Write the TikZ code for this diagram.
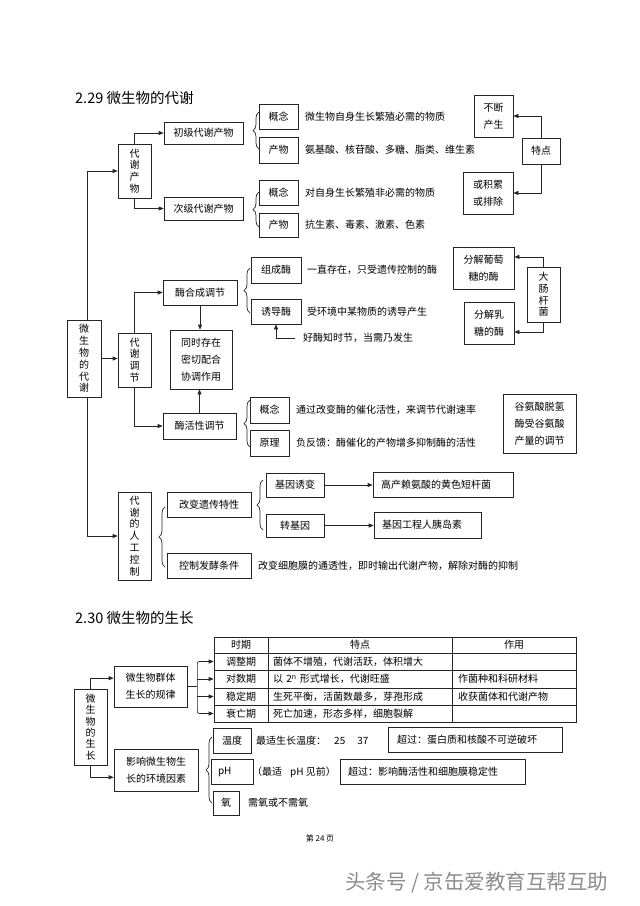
\documentclass[tikz,border=0pt]{standalone}
\usepackage{fontspec}
\setmainfont{Noto Sans CJK SC}
\usetikzlibrary{arrows.meta,calc,decorations.pathreplacing}
\newcommand\bx[6][]{\node[box,#1,minimum width={#5-#3},minimum height={#6-#4}] (#2) at ({(#3+#5)/2},{(#4+#6)/2})}
\begin{document}
\begin{tikzpicture}[x=1pt,y=-1pt,
  line/.style={draw=black!85,line width=0.7pt},
  box/.style={line,fill=white,inner sep=0pt,align=center,font=\fontsize{10}{17}\selectfont},
  vbox/.style={font=\fontsize{10}{11.8}\selectfont},
  txt/.style={anchor=west,inner sep=0pt,font=\fontsize{10}{12}\selectfont},
  arr/.style={line,-{Triangle[length=5pt,width=4pt]}},
  brc/.style={line,decorate,decoration={brace,amplitude=6pt}},
  ttl/.style={anchor=west,inner sep=0pt,font=\fontsize{14.5}{16}\selectfont}]
\fill[white] (0,0) rectangle (640,906);
\useasboundingbox (0,0) rectangle (640,906);

% ===== 2.29 =====
\node[ttl] (t1) at (75,97.5) {2.29 微生物的代谢};

\coordinate (Ltop) at (87,171);
\coordinate (Lbot) at (87,536);
\draw[line] (Ltop) -- (Lbot);

\bx[vbox]{main}{67}{320}{101}{397}{微\\生\\物\\的\\代\\谢};
\bx[vbox]{dc}{118}{144}{151}{198}{代\\谢\\产\\物};
\bx{cj}{164}{122}{243}{144}{初级代谢产物};
\bx{cjb}{164}{197}{243}{220}{次级代谢产物};
\bx{gn1}{259}{104}{298}{129}{概念};
\bx{cw1}{259}{137}{298}{163}{产物};
\bx{gn2}{259}{180}{298}{205}{概念};
\bx{cw2}{259}{213}{298}{237}{产物};
\node[txt] (x1) at (305,116.5) {微生物自身生长繁殖必需的物质};
\node[txt] (x2) at (305,150) {氨基酸、核苷酸、多糖、脂类、维生素};
\node[txt] (x3) at (305,192.5) {对自身生长繁殖非必需的物质};
\node[txt] (x4) at (305,225) {抗生素、毒素、激素、色素};
\bx{bd}{474}{95}{513}{137}{不断\\产生};
\bx{td}{522}{138}{560}{164}{特点};
\bx{hj}{463}{172}{513}{214}{或积累\\或排除};

\draw[arr] (Ltop) -- (dc.west);
\draw[arr] (dc.north) |- (cj.west);
\draw[arr] (dc.south) |- (cjb.west);
\draw[arr] (td.north) |- (bd.east);
\draw[arr] (td.south) |- (hj.east);
\draw[brc] (259,149) -- (259,112);
\draw[brc] (259,227) -- (259,192);

\bx[vbox]{tj}{118}{333}{151}{387}{代\\谢\\调\\节};
\bx{hc}{163}{280}{237}{305}{酶合成调节};
\bx{hx}{163}{413}{236}{439}{酶活性调节};
\bx{tc}{170}{330}{232}{389}{同时存在\\密切配合\\协调作用};
\bx{zc}{251}{257}{301}{283}{组成酶};
\bx{yd}{251}{299}{301}{324}{诱导酶};
\node[txt] (x5) at (307,270) {一直存在，只受遗传控制的酶};
\node[txt] (x6) at (307,311.5) {受环境中某物质的诱导产生};
\node[txt] (hm) at (303,338) {好酶知时节，当需乃发生};
\bx{pt}{453}{247}{514}{289}{分解葡萄\\糖的酶};
\bx{rt}{464}{302}{514}{344}{分解乳\\糖的酶};
\bx[vbox]{dg}{527}{267}{560}{322}{大\\肠\\杆\\菌};
\bx{gn3}{250}{397}{289}{423}{概念};
\bx{yl}{250}{430}{289}{456}{原理};
\node[txt] (x7) at (296,410) {通过改变酶的催化活性，来调节代谢速率};
\node[txt] (x8) at (296,443) {负反馈：酶催化的产物增多抑制酶的活性};
\bx{gas}{503}{394}{576}{453}{谷氨酸脱氢\\酶受谷氨酸\\产量的调节};

\draw[arr] (main.east) -- (main.east -| tj.west);
\draw[arr] (tj.north) |- (hc.west);
\draw[arr] (tj.south) |- (hx.west);
\draw[arr] (hc.south) -- (hc.south |- tc.north);
\draw[arr] (hx.north) -- (hx.north |- tc.south);
\draw[arr,shorten <=8pt] (hm.west) -| (yd.south);
\draw[arr] (dg.north) |- ($(pt.north east)!0.24!(pt.south east)$);
\draw[arr] (dg.south) |- ($(rt.north east)!0.71!(rt.south east)$);
\draw[brc] (250,313) -- (250,268);
\draw[brc] (250,447) -- (250,400);

\bx[vbox]{rg}{118}{492}{151}{580}{代\\谢\\的\\人\\工\\控\\制};
\bx{gb}{167}{492}{251}{517}{改变遗传特性};
\bx{kz}{167}{553}{251}{578}{控制发酵条件};
\bx{jy}{266}{473}{324}{497}{基因诱变};
\bx{zj}{266}{514}{324}{537}{转基因};
\bx[text width=124,align=left,inner xsep=8pt]{gc}{373}{472}{513}{497}{高产赖氨酸的黄色短杆菌};
\bx[text width=91,align=left,inner xsep=8pt]{yds}{374}{512}{481}{538}{基因工程人胰岛素};
\node[txt] (x9) at (258,566) {改变细胞膜的通透性，即时输出代谢产物，解除对酶的抑制};

\draw[arr] (Lbot) -- (rg.west);
\draw[arr] (jy.east) -- (jy.east -| gc.west);
\draw[arr] (zj.east) -- (zj.east -| yds.west);
\draw[brc] (165,567) -- (165,507);
\draw[brc] (263,530) -- (263,480);

% ===== 2.30 =====
\node[ttl] (t2) at (75,617.5) {2.30 微生物的生长};

\bx{h1}{214}{637}{268}{653}{时期};
\bx{h2}{268}{637}{452}{653}{特点};
\bx{h3}{452}{637}{576}{653}{作用};
\bx{r1}{214}{653}{268}{670}{调整期};
\bx[text width=174,align=left,inner xsep=5pt]{s1}{268}{653}{452}{670}{菌体不增殖，代谢活跃，体积增大};
\bx[text width=112,align=left,inner xsep=6pt]{u1}{452}{653}{576}{670}{};
\bx{r2}{214}{670}{268}{688}{对数期};
\bx[text width=174,align=left,inner xsep=5pt]{s2}{268}{670}{452}{688}{以 2\textsuperscript{n} 形式增长，代谢旺盛};
\bx[text width=112,align=left,inner xsep=6pt]{u2}{452}{670}{576}{688}{作菌种和科研材料};
\bx{r3}{214}{688}{268}{705}{稳定期};
\bx[text width=174,align=left,inner xsep=5pt]{s3}{268}{688}{452}{705}{生死平衡，活菌数最多，芽孢形成};
\bx[text width=112,align=left,inner xsep=6pt]{u3}{452}{688}{576}{705}{收获菌体和代谢产物};
\bx{r4}{214}{705}{268}{722}{衰亡期};
\bx[text width=174,align=left,inner xsep=5pt]{s4}{268}{705}{452}{722}{死亡加速，形态多样，细胞裂解};
\bx[text width=112,align=left,inner xsep=6pt]{u4}{452}{705}{576}{722}{};

\bx[vbox,font=\fontsize{10}{11.4}\selectfont]{ws}{74}{689}{107}{765}{微\\生\\物\\的\\生\\长};
\bx{qt}{114}{666}{187}{707}{微生物群体\\生长的规律};
\bx{yx}{114}{749}{198}{791}{影响微生物生\\长的环境因素};
\bx{wd}{213}{728}{251}{753}{温度};
\bx[text width=28,align=left,inner xsep=7pt]{ph}{213}{759}{251}{784}{pH};
\bx{yq}{213}{791}{239}{815}{氧};
\node[txt] (x10) at (256,741) {最适生长温度：\hspace{8pt}25\hspace{12pt}37};
\node[txt] (x11) at (252,772) {（最适\hspace{8pt}pH 见前）};
\node[txt] (x12) at (248,803) {需氧或不需氧};
\bx[text width=156,align=left,inner xsep=9pt]{cg1}{388}{727}{562}{752}{超过：蛋白质和核酸不可逆破坏};
\bx[text width=169,align=left,inner xsep=8pt]{cg2}{340}{759}{525}{784}{超过：影响酶活性和细胞膜稳定性};

\coordinate (br) at ($(qt.east)+(10,0)$);
\draw[line] (qt.east) -- (br);
\draw[arr,rounded corners=2pt] (br) -- (br |- r1.west) -- (r1.west);
\draw[arr,rounded corners=2pt] (br) -- (br |- r4.west) -- (r4.west);
\draw[arr] (br |- r2.west) -- (r2.west);
\draw[arr] (br |- r3.west) -- (r3.west);
\draw[arr] (ws.north) |- ($(qt.north west)!0.3!(qt.south west)$);
\draw[arr] (ws.south) |- ($(yx.north west)!0.67!(yx.south west)$);
\draw[brc] (212,803) -- (212,737);

\node[inner sep=0pt,font=\fontsize{8}{10}\selectfont] (pg) at (320,838) {第 24 页};
\node[txt,text=black!45,font=\fontsize{20.5}{24}\selectfont] (wm) at (345,883) {头条号 / 京缶爱教育互帮互助};
\end{tikzpicture}
\end{document}
